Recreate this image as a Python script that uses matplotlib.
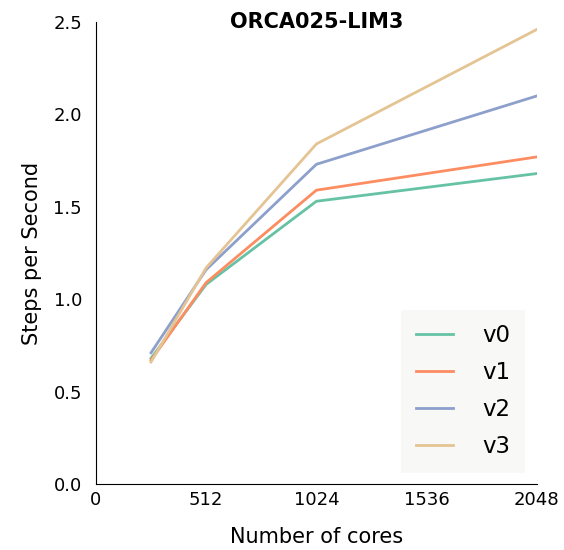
import matplotlib.pyplot as plt

cores = [256, 512, 1024, 2048]
v0 = [0.68, 1.08, 1.53, 1.68]
v1 = [0.67, 1.09, 1.59, 1.77]
v2 = [0.71, 1.16, 1.73, 2.10]
v3 = [0.66, 1.17, 1.84, 2.46]
labels = ['v0', 'v1', 'v2', 'v3']
colors = ['#66c2a5', '#fc8d62', '#8da0cb', '#e5c494']
xticks = [0, 512, 1024, 1536, 2048]

fig, ax = plt.subplots(figsize=(5.64, 5.5), dpi=100)
fig.subplots_adjust(left=0.17, right=0.952, top=0.96, bottom=0.12)

for y, lab, c in zip([v0, v1, v2, v3], labels, colors):
    ax.plot(cores, y, color=c, linewidth=2, label=lab)

ax.set_xlim(0, 2048)
ax.set_ylim(0, 2.5)
ax.set_xticks(xticks)
ax.set_yticks([0, 0.5, 1.0, 1.5, 2.0, 2.5])
ax.tick_params(length=0, labelsize=13)
ax.tick_params(axis='y', pad=10)
ax.tick_params(axis='x', pad=5)
ax.spines['top'].set_visible(False)
ax.spines['right'].set_visible(False)
ax.set_xlabel('Number of cores', fontsize=15, labelpad=13)
ax.set_ylabel('Steps per Second', fontsize=15, labelpad=8)
# fixed y so matplotlib does not auto-shift the title
ax.set_title('ORCA025-LIM3', fontsize=15, fontweight='bold', y=0.987, pad=0)

leg = ax.legend(loc='lower right', fontsize=16.5, frameon=True, fancybox=False,
                borderpad=0.65, labelspacing=0.6, handlelength=1.6,
                handletextpad=1.3, borderaxespad=0.5)
leg.get_frame().set_facecolor('#f8f8f6')
leg.get_frame().set_edgecolor('none')
leg.get_frame().set_alpha(1)

plt.savefig('out.png')
